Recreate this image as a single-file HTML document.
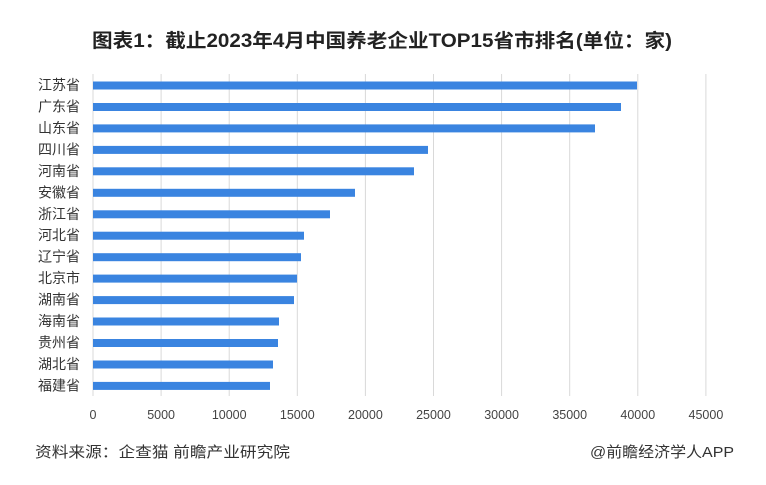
<!DOCTYPE html><html><head><meta charset="utf-8"><style>
body{margin:0;background:#fff;width:766px;height:480px;overflow:hidden;font-family:"Liberation Sans","Noto Sans CJK SC",sans-serif}
</style></head><body>
<svg width="766" height="480" xmlns="http://www.w3.org/2000/svg" font-family="Liberation Sans, Noto Sans CJK SC, sans-serif">
<text x="382" y="47" text-anchor="middle" font-size="19" font-weight="bold" fill="#222" textLength="580" lengthAdjust="spacingAndGlyphs">图表1：截止2023年4月中国养老企业TOP15省市排名(单位：家)</text>
<g stroke="#d9d9d9" stroke-width="1">
<line x1="93" y1="74" x2="93" y2="396"/><line x1="161.1" y1="74" x2="161.1" y2="396"/><line x1="229.2" y1="74" x2="229.2" y2="396"/><line x1="297.3" y1="74" x2="297.3" y2="396"/><line x1="365.4" y1="74" x2="365.4" y2="396"/><line x1="433.5" y1="74" x2="433.5" y2="396"/><line x1="501.6" y1="74" x2="501.6" y2="396"/><line x1="569.7" y1="74" x2="569.7" y2="396"/><line x1="637.8" y1="74" x2="637.8" y2="396"/><line x1="705.9" y1="74" x2="705.9" y2="396"/>
</g>
<g fill="#3a84e0">
<rect x="93" y="81.5" width="544" height="8"/>
<rect x="93" y="103" width="528" height="8"/>
<rect x="93" y="124.4" width="502" height="8"/>
<rect x="93" y="145.9" width="335" height="8"/>
<rect x="93" y="167.3" width="321" height="8"/>
<rect x="93" y="188.8" width="262" height="8"/>
<rect x="93" y="210.3" width="237" height="8"/>
<rect x="93" y="231.7" width="211" height="8"/>
<rect x="93" y="253.2" width="208" height="8"/>
<rect x="93" y="274.6" width="204" height="8"/>
<rect x="93" y="296.1" width="201" height="8"/>
<rect x="93" y="317.5" width="186" height="8"/>
<rect x="93" y="339" width="185" height="8"/>
<rect x="93" y="360.5" width="180" height="8"/>
<rect x="93" y="381.9" width="177" height="8"/>
</g>
<g font-size="14" fill="#333" text-anchor="end">
<text x="80" y="90">江苏省</text><text x="80" y="111.5">广东省</text><text x="80" y="133">山东省</text><text x="80" y="154.4">四川省</text><text x="80" y="175.9">河南省</text><text x="80" y="197.3">安徽省</text><text x="80" y="218.8">浙江省</text><text x="80" y="240.2">河北省</text><text x="80" y="261.7">辽宁省</text><text x="80" y="283.1">北京市</text><text x="80" y="304.6">湖南省</text><text x="80" y="326">海南省</text><text x="80" y="347.5">贵州省</text><text x="80" y="369">湖北省</text><text x="80" y="390.4">福建省</text>
</g>
<g font-size="12.5" fill="#444" text-anchor="middle">
<text x="93" y="419">0</text><text x="161.1" y="419">5000</text><text x="229.2" y="419">10000</text><text x="297.3" y="419">15000</text><text x="365.4" y="419">20000</text><text x="433.5" y="419">25000</text><text x="501.6" y="419">30000</text><text x="569.7" y="419">35000</text><text x="637.8" y="419">40000</text><text x="705.9" y="419">45000</text>
</g>
<text x="35" y="457" font-size="15" fill="#333" textLength="255" lengthAdjust="spacingAndGlyphs">资料来源：企查猫 前瞻产业研究院</text>
<text x="590" y="457" font-size="15" fill="#333" textLength="144" lengthAdjust="spacingAndGlyphs">@前瞻经济学人APP</text>
</svg>
</body></html>
